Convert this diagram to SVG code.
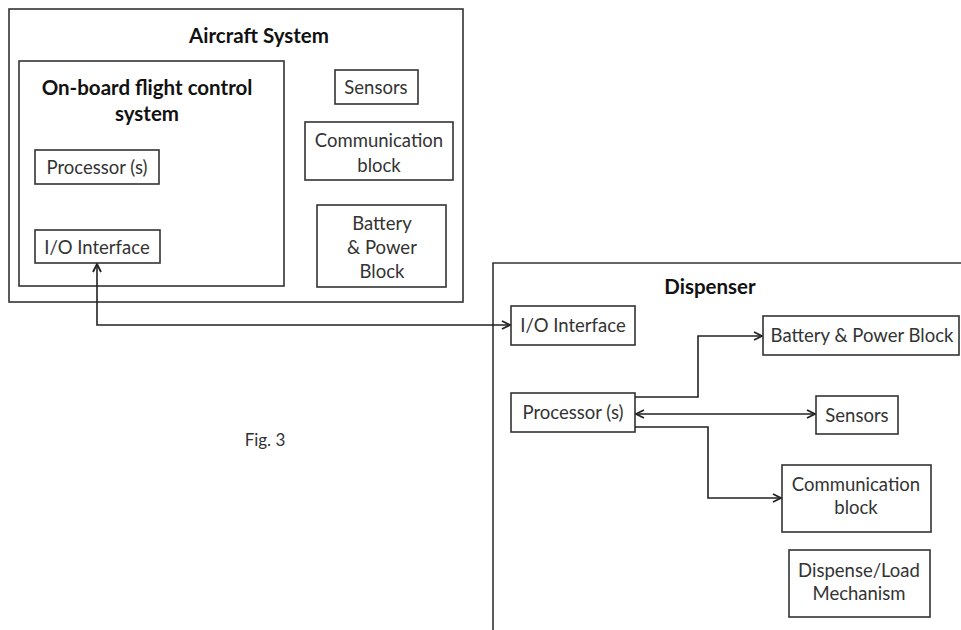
<svg xmlns="http://www.w3.org/2000/svg" width="961" height="630" viewBox="0 0 961 630">
<style>
.box{fill:#fff;stroke:#333;stroke-width:1.6}
.t{font-family:Lato,"Open Sans","Liberation Sans",sans-serif;font-size:18.5px;fill:#333;text-anchor:middle}
.b{font-weight:bold;fill:#111;font-size:20.5px}
.c{fill:none;stroke:#222;stroke-width:1.6}
</style>
<defs>
<marker id="ah" viewBox="0 0 10 10" refX="9" refY="5" markerWidth="10" markerHeight="10" markerUnits="userSpaceOnUse" orient="auto-start-reverse">
<path d="M1,1 L9,5 L1,9" fill="none" stroke="#222" stroke-width="1.8"/>
</marker>
</defs>
<rect width="961" height="630" fill="#fff"/>
<g id="aircraft">
<rect class="box" x="9" y="9" width="454" height="293"/>
<text class="t b" x="259" y="43">Aircraft System</text>
</g>
<g id="onboard">
<rect class="box" x="19" y="61" width="265" height="225"/>
<text class="t b" x="147" y="95">On-board flight control</text>
<text class="t b" x="147" y="121">system</text>
</g>
<g id="ac-processor">
<rect class="box" x="35" y="150" width="124" height="34"/>
<text class="t" x="97" y="174">Processor (s)</text>
</g>
<g id="ac-io">
<rect class="box" x="35" y="230" width="125" height="33"/>
<text class="t" x="97" y="254">I/O Interface</text>
</g>
<g id="ac-sensors">
<rect class="box" x="335" y="70" width="83" height="34"/>
<text class="t" x="376" y="94">Sensors</text>
</g>
<g id="ac-comm">
<rect class="box" x="305" y="122" width="148" height="58"/>
<text class="t" x="379" y="147">Communication</text>
<text class="t" x="379" y="172">block</text>
</g>
<g id="ac-battery">
<rect class="box" x="317" y="205" width="129" height="82"/>
<text class="t" x="382" y="230">Battery</text>
<text class="t" x="382" y="254">&amp; Power</text>
<text class="t" x="382" y="278">Block</text>
</g>
<g id="dispenser">
<path class="box" d="M493,640 L493,263 L970,263"/>
<text class="t b" x="710" y="294">Dispenser</text>
</g>
<g id="d-io">
<rect class="box" x="511" y="306" width="124" height="39"/>
<text class="t" x="573" y="332">I/O Interface</text>
</g>
<g id="d-battery">
<rect class="box" x="763" y="316" width="196" height="39"/>
<text class="t" x="862" y="342">Battery &amp; Power Block</text>
</g>
<g id="d-processor">
<rect class="box" x="511" y="393" width="124" height="39"/>
<text class="t" x="573" y="419">Processor (s)</text>
</g>
<g id="d-sensors">
<rect class="box" x="816" y="396" width="82" height="38"/>
<text class="t" x="857" y="422">Sensors</text>
</g>
<g id="d-comm">
<rect class="box" x="782" y="465" width="149" height="67"/>
<text class="t" x="856" y="491">Communication</text>
<text class="t" x="856" y="514">block</text>
</g>
<g id="d-dispense">
<rect class="box" x="789" y="550" width="141" height="67"/>
<text class="t" x="859" y="577">Dispense/Load</text>
<text class="t" x="859" y="600">Mechanism</text>
</g>
<text class="t" x="265" y="446" style="font-size:17px">Fig. 3</text>
<g id="connectors">
<path class="c" d="M97,264 L97,325 L510,325" marker-start="url(#ah)" marker-end="url(#ah)"/>
<path class="c" d="M635,397 L698,397 L698,336 L762,336" marker-end="url(#ah)"/>
<path class="c" d="M636,414 L815,414" marker-start="url(#ah)" marker-end="url(#ah)"/>
<path class="c" d="M635,427 L708,427 L708,498 L781,498" marker-end="url(#ah)"/>
</g>
</svg>
